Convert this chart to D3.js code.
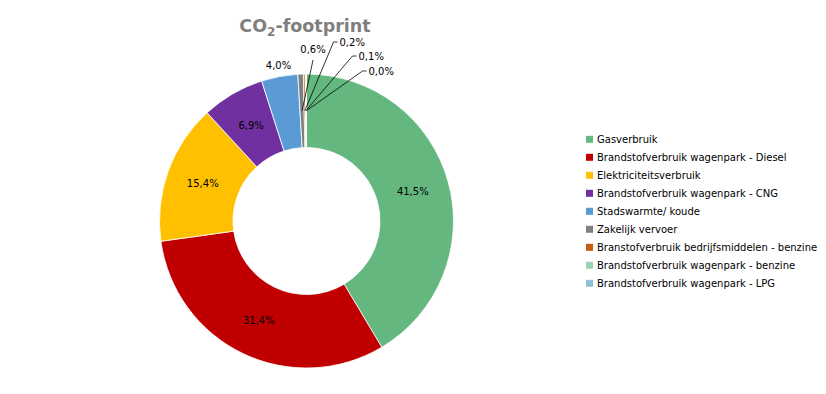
<!DOCTYPE html>
<html><head><meta charset="utf-8">
<script src="https://cdn.jsdelivr.net/npm/d3@7"></script>
<style>body{margin:0;background:#fff}svg{display:block}</style>
</head><body>
<script>
const categories = ["Gasverbruik","Brandstofverbruik wagenpark - Diesel","Elektriciteitsverbruik","Brandstofverbruik wagenpark - CNG","Stadswarmte/ koude","Zakelijk vervoer","Branstofverbruik bedrijfsmiddelen - benzine","Brandstofverbruik wagenpark - benzine","Brandstofverbruik wagenpark - LPG"];
const values = [41.5, 31.4, 15.4, 6.9, 4.0, 0.6, 0.2, 0.1, 0.04];
const colors = ["#63b77f","#c00000","#ffc000","#7030a0","#5b9bd5","#808080","#c55a11","#9dd3b2","#8fc1d8"];

const W=826,H=394;
const svg=d3.select("body").append("svg").attr("width",W).attr("height",H);
const cx=306.5, cy=221, R=147, r0=73.5;
const fmt=v=>v.toFixed(1).replace(".",",")+"%";
const data=categories.map((c,i)=>({c,v:values[i],col:colors[i],i}));
const pie=d3.pie().sort(null).value(d=>d.v);
const arcs=pie(data);
const arc=d3.arc().innerRadius(r0).outerRadius(R);
const g=svg.append("g").attr("transform",`translate(${cx},${cy})`);
g.selectAll("path").data(arcs).join("path").attr("d",arc).attr("fill",d=>d.data.col)
 .attr("stroke","#fff").attr("stroke-width",0.8);

const lab=g.append("g").attr("font-family","DejaVu Sans, Verdana, sans-serif").attr("font-size",10).attr("fill","#000");
arcs.forEach((a,k)=>{
  const m=(a.startAngle+a.endAngle)/2;
  if(k<4){
    const [x,y]=arc.centroid(a);
    lab.append("text").attr("x",x).attr("y",y).attr("dy","0.35em").attr("text-anchor","middle").text(fmt(a.data.v));
  } else if(k===4){
    const rr=R+11;
    lab.append("text").attr("x",rr*Math.sin(m)+1).attr("y",-rr*Math.cos(m)).attr("dy","0.35em").attr("text-anchor","middle").text(fmt(a.data.v));
  } else {
    const [x0,y0]=arc.centroid(a);
    const j=k-5;
    if(j===0){
      const ex=6.5, ey=-161;
      lab.append("line").attr("x1",x0).attr("y1",y0).attr("x2",ex).attr("y2",ey).attr("stroke","#000").attr("stroke-width",0.8);
      lab.append("text").attr("x",ex).attr("y",ey-7).attr("text-anchor","middle").text(fmt(a.data.v));
    } else {
      const elbows=[[27,-179],[46,-165],[56,-150]];
      const [ex,ey]=elbows[j-1];
      lab.append("polyline").attr("points",`${x0},${y0} ${ex},${ey} ${ex+4},${ey}`).attr("fill","none").attr("stroke","#000").attr("stroke-width",0.8);
      lab.append("text").attr("x",ex+6).attr("y",ey).attr("dy","0.35em").text(fmt(a.data.v));
    }
  }
});

// title
const t=svg.append("text").attr("x",305).attr("y",32).attr("text-anchor","middle")
 .attr("font-family","DejaVu Sans, Verdana, sans-serif").attr("font-weight","bold").attr("font-size",17.5).attr("fill","#7f7f7f");
t.append("tspan").text("CO");
t.append("tspan").attr("font-size",12).attr("dy",4).text("2");
t.append("tspan").attr("dy",-4).text("-footprint");

// legend
const lg=svg.append("g").attr("font-family","DejaVu Sans, Verdana, sans-serif").attr("font-size",10);
const ly=d3.scalePoint().domain(categories).range([139.3,283.3]);
categories.forEach((c,i)=>{
  lg.append("rect").attr("x",586).attr("y",ly(c)-3.5).attr("width",7).attr("height",7).attr("fill",colors[i]);
  lg.append("text").attr("x",597).attr("y",ly(c)).attr("dy","0.35em").attr("fill","#000").text(c);
});
</script>
</body></html>
